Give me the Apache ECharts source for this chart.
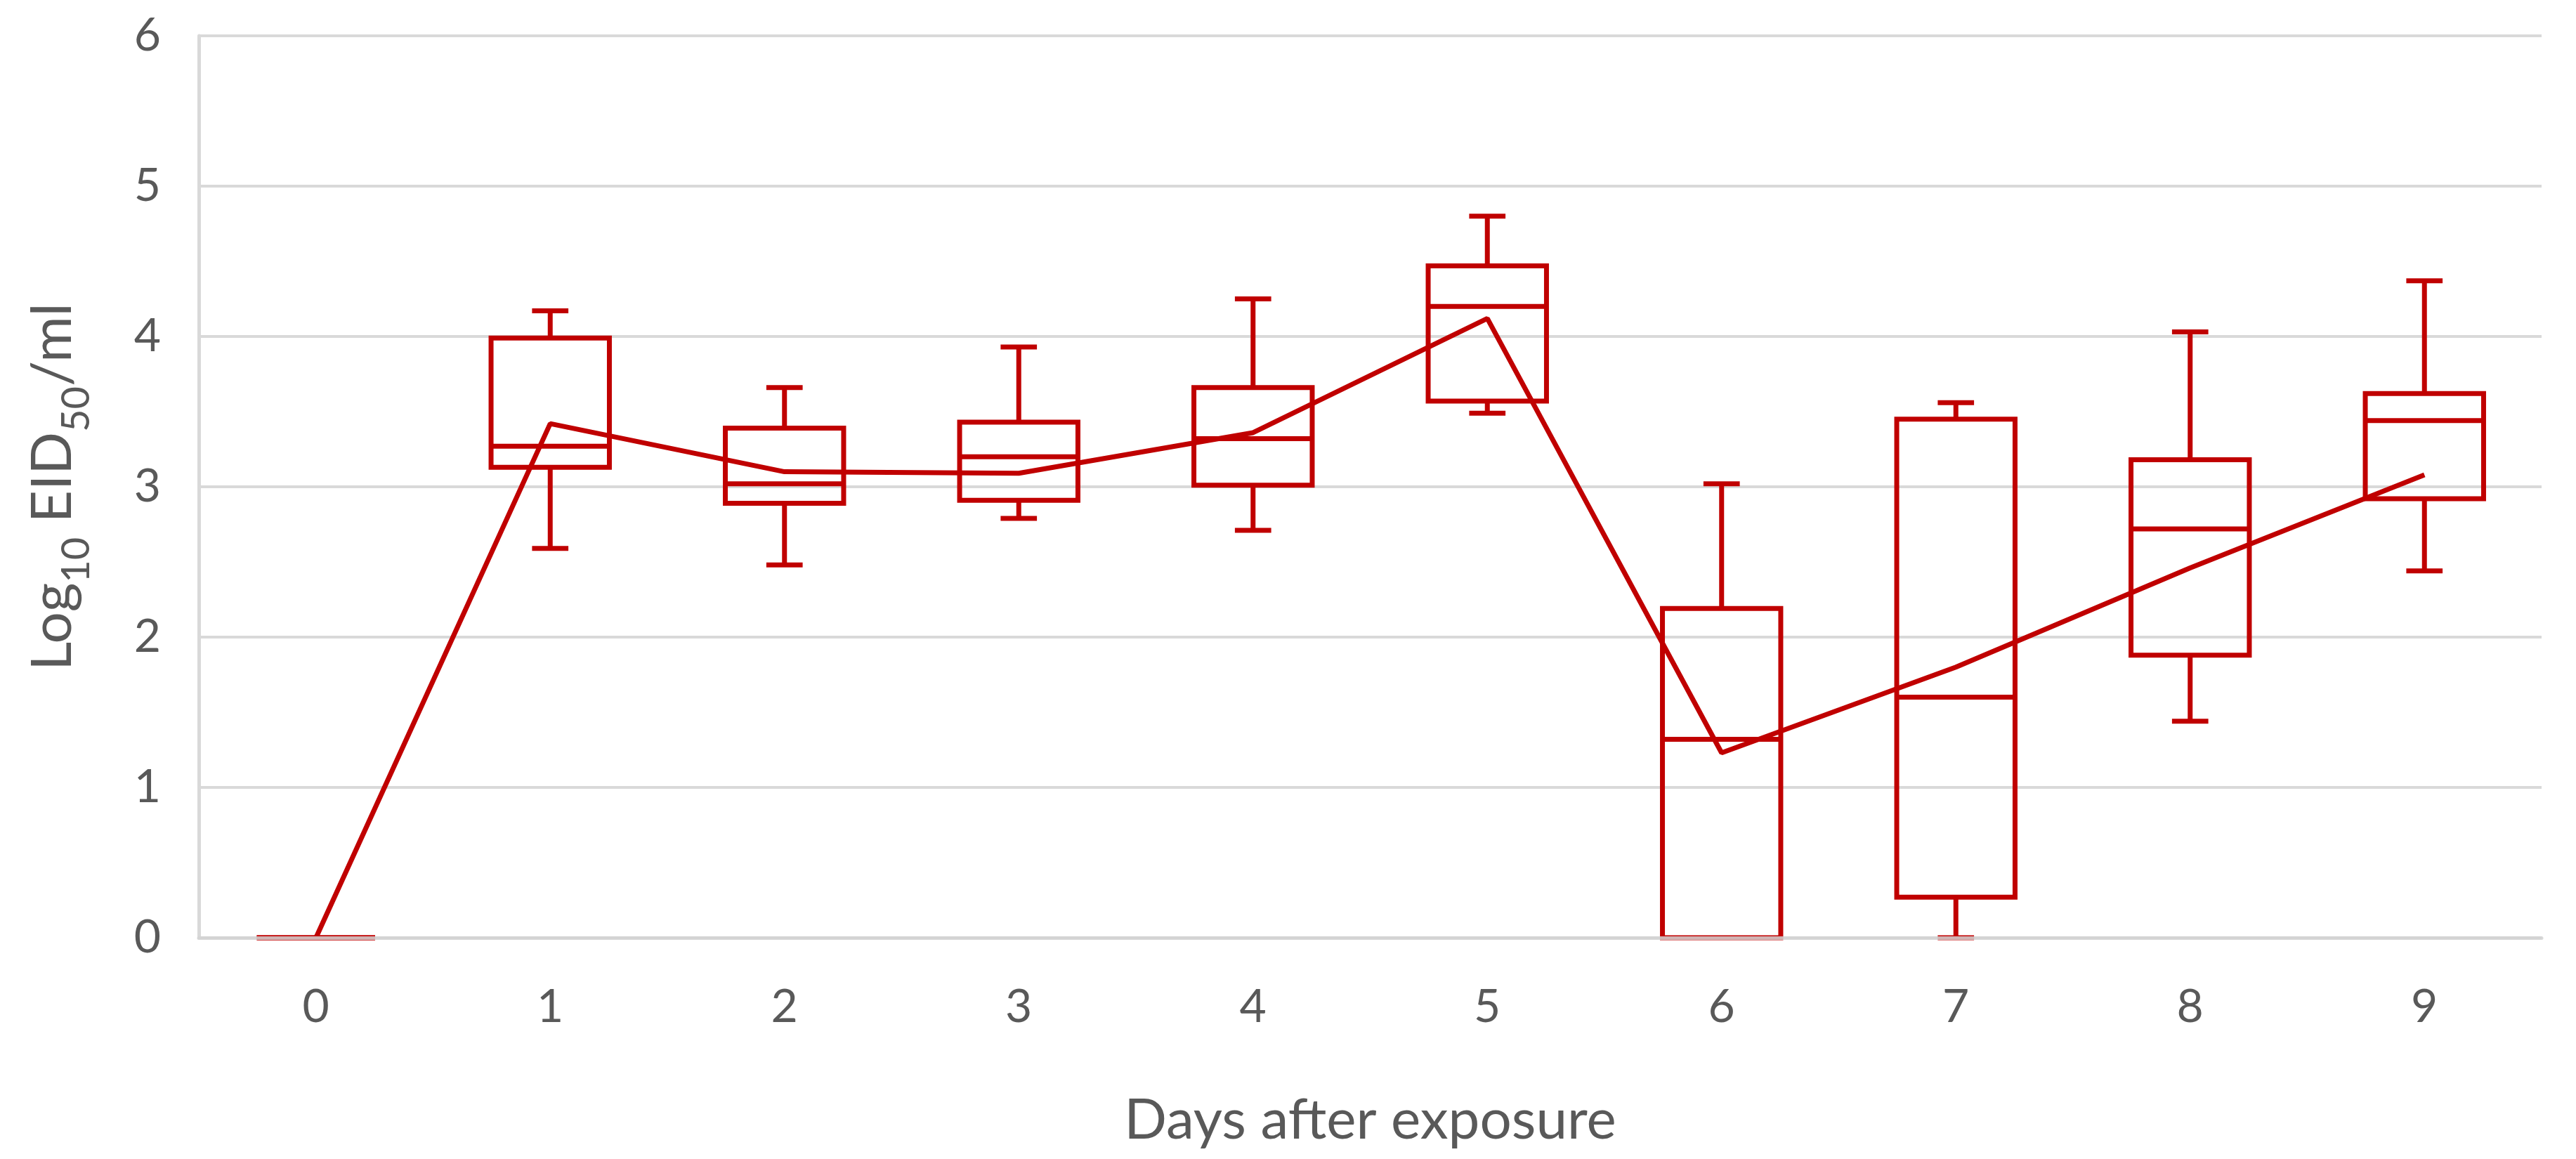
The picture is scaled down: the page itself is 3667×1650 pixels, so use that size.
<!DOCTYPE html>
<html><head><meta charset="utf-8">
<script src="https://cdn.jsdelivr.net/npm/echarts@6/dist/echarts.min.js"></script>
<style>html,body{margin:0;padding:0;background:#fff}#c{width:3667px;height:1650px}</style>
</head><body><div id="c"></div>
<script>
const days = ['0','1','2','3','4','5','6','7','8','9'];
const whiskerLow  = [0, 2.59, 2.48, 2.79, 2.71, 3.49, 0,    0,    1.44, 2.44];
const q1          = [0, 3.13, 2.89, 2.91, 3.01, 3.57, 0,    0.27, 1.88, 2.92];
const median      = [0, 3.27, 3.02, 3.20, 3.32, 4.20, 1.32, 1.60, 2.72, 3.44];
const q3          = [0, 3.99, 3.39, 3.43, 3.66, 4.47, 2.19, 3.45, 3.18, 3.62];
const whiskerHigh = [0, 4.17, 3.66, 3.93, 4.25, 4.80, 3.02, 3.56, 4.03, 4.37];
const mean        = [0, 3.42, 3.10, 3.09, 3.36, 4.12, 1.23, 1.80, 2.46, 3.08];
const yMin = 0, yMax = 6, yStep = 1;

const RED = '#C00000';
const GRAY = '#d9d9d9';
const TXT = '#595959';
const FONT = 'Lato, "Open Sans", sans-serif';

const boxData = days.map((d, i) => [i, whiskerLow[i], q1[i], median[i], q3[i], whiskerHigh[i]]);

function renderBox(params, api) {
  const i = api.value(0);
  const lo = api.value(1), b = api.value(2), m = api.value(3), t = api.value(4), hi = api.value(5);
  const band = api.size([1, 0])[0];
  const bw = band * 0.505, cw = band * 0.155;
  const pLo = api.coord([i, lo]), pB = api.coord([i, b]), pM = api.coord([i, m]);
  const pT = api.coord([i, t]), pHi = api.coord([i, hi]);
  const x = pM[0];
  const st = { stroke: RED, lineWidth: 7, fill: null };
  const ch = [];
  ch.push({ type: 'rect', shape: { x: x - bw / 2, y: pT[1], width: bw, height: pB[1] - pT[1] }, style: st });
  ch.push({ type: 'line', shape: { x1: x - bw / 2, y1: pM[1], x2: x + bw / 2, y2: pM[1] }, style: st });
  if (hi > t) {
    ch.push({ type: 'line', shape: { x1: x, y1: pT[1], x2: x, y2: pHi[1] }, style: st });
    ch.push({ type: 'line', shape: { x1: x - cw / 2, y1: pHi[1], x2: x + cw / 2, y2: pHi[1] }, style: st });
  }
  if (lo < b) {
    ch.push({ type: 'line', shape: { x1: x, y1: pB[1], x2: x, y2: pLo[1] }, style: st });
    ch.push({ type: 'line', shape: { x1: x - cw / 2, y1: pLo[1], x2: x + cw / 2, y2: pLo[1] }, style: st });
  }
  return { type: 'group', children: ch };
}

const chart = echarts.init(document.getElementById('c'), null, { renderer: 'canvas' });
chart.setOption({
  animation: false,
  backgroundColor: '#ffffff',
  textStyle: { fontFamily: FONT },
  grid: { left: 283, right: 49, top: 51, bottom: 315, containLabel: false },
  xAxis: {
    type: 'category',
    data: days,
    boundaryGap: true,
    z: 10,
    axisLine: { show: true, lineStyle: { color: 'rgba(210,210,210,0.85)', width: 5 } },
    axisTick: { show: false },
    axisLabel: { fontSize: 66, color: TXT, margin: 66, fontFamily: FONT },
    splitLine: { show: false },
    name: 'Days after exposure',
    nameLocation: 'middle',
    nameGap: 220,
    nameTextStyle: { fontSize: 80, color: TXT, fontFamily: FONT }
  },
  yAxis: {
    type: 'value',
    min: yMin, max: yMax, interval: yStep,
    axisLine: { show: true, lineStyle: { color: GRAY, width: 5 } },
    axisTick: { show: false },
    axisLabel: { fontSize: 66, color: TXT, margin: 54, fontFamily: FONT },
    splitLine: { show: true, lineStyle: { color: GRAY, width: 4 } },
    name: '{a|Log}{s|10}{a| EID}{s|50}{a|/ml}',
    nameLocation: 'middle',
    nameRotate: 90,
    nameGap: 100,
    nameTextStyle: {
      color: TXT, fontFamily: FONT,
      rich: {
        a: { fontSize: 80, lineHeight: 84, color: TXT, fontFamily: FONT, verticalAlign: 'top' },
        s: { fontSize: 56, lineHeight: 148, color: TXT, fontFamily: FONT }
      }
    }
  },
  series: [
    {
      type: 'custom',
      renderItem: renderBox,
      data: boxData,
      encode: { x: 0, y: [1, 2, 3, 4, 5] },
      z: 2
    },
    {
      type: 'line',
      data: mean,
      symbol: 'none',
      lineStyle: { color: RED, width: 7 },
      z: 3
    }
  ]
});
</script></body></html>
